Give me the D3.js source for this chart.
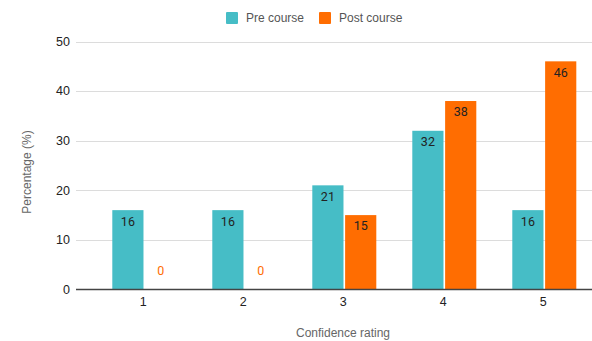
<!DOCTYPE html>
<html>
<head>
<meta charset="utf-8">
<script src="https://cdn.jsdelivr.net/npm/d3@7"></script>
<style>
  html, body { margin: 0; padding: 0; background: #fff; }
  svg { display: block; }
</style>
</head>
<body>
<svg id="chart" width="592" height="341"></svg>
<script>
// Confidence ratings before and after the course (percent of respondents)
const categories = ["1", "2", "3", "4", "5"];
const seriesNames = ["Pre course", "Post course"];
const preCourse = [16, 16, 21, 32, 16];
const postCourse = [0, 0, 15, 38, 46];
const yTicks = [0, 10, 20, 30, 40, 50];
const colors = ["#46BDC6", "#FF6D01"];

const svg = d3.select("#chart");
const plot = { left: 76, right: 592, top: 41.5, bottom: 289.5 };

const x = d3.scaleBand().domain(categories).range([93.3, 593.3]).paddingInner(0).paddingOuter(0);
const xSub = d3.scaleBand().domain(seriesNames).range([-31, 33]).paddingInner(0.05);
const y = d3.scaleLinear().domain([0, 50]).range([plot.bottom, plot.top]);

// grid lines
svg.append("g").selectAll("line").data(yTicks.filter(t => t !== 0)).join("line")
  .attr("x1", plot.left).attr("x2", plot.right)
  .attr("y1", d => Math.round(y(d)) + 0.5).attr("y2", d => Math.round(y(d)) + 0.5)
  .attr("stroke", "#dcdcdc").attr("stroke-width", 1);

// y tick labels
svg.append("g").selectAll("text").data(yTicks).join("text")
  .attr("x", 70).attr("y", d => y(d)).attr("dy", "0.35em")
  .attr("text-anchor", "end")
  .attr("font-family", "Liberation Sans, Arial, sans-serif").attr("font-size", 12.5)
  .attr("fill", "#222").text(d => d);

// bars
const rows = categories.map((c, i) => ({ cat: c, values: [preCourse[i], postCourse[i]] }));
const groups = svg.append("g").selectAll("g").data(rows).join("g")
  .attr("transform", d => `translate(${x(d.cat) + x.bandwidth() / 2},0)`);

groups.selectAll("rect").data(d => d.values.map((v, j) => ({ v, s: seriesNames[j], j })))
  .join("rect")
  .attr("x", d => xSub(d.s))
  .attr("width", xSub.bandwidth())
  .attr("y", d => y(d.v))
  .attr("height", d => y(0) - y(d.v))
  .attr("fill", d => colors[d.j]);

// value labels
groups.selectAll("text").data(d => d.values.map((v, j) => ({ v, s: seriesNames[j], j })))
  .join("text")
  .attr("x", d => xSub(d.s) + xSub.bandwidth() / 2)
  .attr("y", d => d.v === 0 ? y(0) - 19 : y(d.v) + 11)
  .attr("dy", "0.35em")
  .attr("text-anchor", "middle")
  .attr("font-family", "Roboto, sans-serif").attr("font-size", 12.5)
  .attr("fill", d => d.v === 0 ? colors[d.j] : "#222")
  .text(d => d.v);

// baseline
svg.append("line")
  .attr("x1", plot.left).attr("x2", plot.right)
  .attr("y1", y(0)).attr("y2", y(0))
  .attr("stroke", "#444").attr("stroke-width", 1.3);

// x tick labels
svg.append("g").selectAll("text").data(categories).join("text")
  .attr("x", d => x(d) + x.bandwidth() / 2).attr("y", 302).attr("dy", "0.35em")
  .attr("text-anchor", "middle")
  .attr("font-family", "Liberation Sans, Arial, sans-serif").attr("font-size", 12.5)
  .attr("fill", "#222").text(d => d);

// axis titles
svg.append("text")
  .attr("x", 343).attr("y", 333).attr("dy", "0.35em")
  .attr("text-anchor", "middle")
  .attr("font-family", "Liberation Sans, Arial, sans-serif").attr("font-size", 12)
  .attr("fill", "#666").text("Confidence rating");

svg.append("text")
  .attr("transform", "translate(27,172) rotate(-90)")
  .attr("dy", "0.35em")
  .attr("text-anchor", "middle")
  .attr("font-family", "Liberation Sans, Arial, sans-serif").attr("font-size", 12)
  .attr("fill", "#666").text("Percentage (%)");

// legend
const legendX = [226, 319];
const legend = svg.append("g").selectAll("g").data(seriesNames).join("g")
  .attr("transform", (d, i) => `translate(${legendX[i]},12)`);
legend.append("rect").attr("width", 12).attr("height", 12).attr("rx", 1)
  .attr("fill", (d, i) => colors[i]);
legend.append("text").attr("x", 20).attr("y", 6).attr("dy", "0.35em")
  .attr("font-family", "Liberation Sans, Arial, sans-serif").attr("font-size", 12)
  .attr("fill", "#555").text(d => d);
</script>
</body>
</html>
